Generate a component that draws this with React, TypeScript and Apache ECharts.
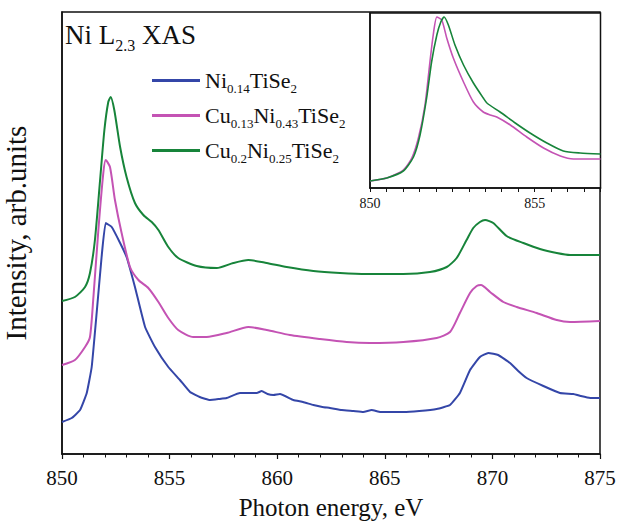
import React, { useEffect, useRef } from "react";
import * as echarts from "echarts";

// Photon energy (eV) and intensity (arb. units) pairs
const seriesNames = ["Ni0.14TiSe2", "Cu0.13Ni0.43TiSe2", "Cu0.2Ni0.25TiSe2"];
const legendRich = [
  "Ni{s|0.14}TiSe{s|2}",
  "Cu{s|0.13}Ni{s|0.43}TiSe{s|2}",
  "Cu{s|0.2}Ni{s|0.25}TiSe{s|2}",
];
const colors = ["#3446a8", "#c453b4", "#17843a"];

const blueMain: [number, number][] = [
  [850.0, 36], [850.45, 40], [850.84, 48], [851.15, 65], [851.38, 91], [851.61, 145],
  [851.84, 201], [852.03, 235], [852.31, 231], [852.7, 215], [853.0, 201], [853.39, 171],
  [853.86, 131], [854.32, 111], [854.94, 91], [855.48, 78], [855.95, 66], [856.4, 61],
  [856.88, 58], [857.3, 59], [857.65, 60], [858.27, 65], [858.7, 65], [859.05, 65],
  [859.28, 67], [859.55, 64], [859.82, 63], [860.13, 64], [860.75, 58], [861.2, 56],
  [861.68, 53], [862.1, 51], [862.45, 50], [863.0, 48], [863.54, 47], [864.0, 46],
  [864.39, 48], [864.8, 46], [865.3, 46], [865.86, 46], [866.6, 47], [867.41, 49],
  [868.03, 53], [868.49, 65], [868.96, 88], [869.42, 101], [869.81, 105], [870.27, 103],
  [870.82, 95], [871.2, 87], [871.59, 80], [872.37, 72], [873.14, 65], [873.76, 64],
  [874.1, 62], [874.54, 60], [875.0, 60],
];

const magentaMain: [number, number][] = [
  [850.0, 93], [850.6, 98], [851.07, 111], [851.3, 121], [851.46, 161], [851.69, 228],
  [851.92, 285], [852.03, 298], [852.23, 291], [852.46, 258], [852.77, 225], [853.16, 191],
  [853.55, 178], [854.01, 170], [854.48, 156], [854.94, 140], [855.4, 128], [856.1, 121],
  [856.72, 121], [857.65, 125], [858.66, 131], [859.51, 128], [860.59, 123], [861.99, 119],
  [863.23, 116], [864.31, 115], [865.86, 116], [867.41, 120], [868.03, 126], [868.49, 145],
  [868.96, 165], [869.27, 172], [869.47, 173], [869.89, 166], [870.51, 156], [871.13, 151],
  [872.06, 145], [872.99, 138], [873.61, 136], [875.0, 137],
];

const greenMain: [number, number][] = [
  [850.0, 157], [850.6, 161], [851.07, 171], [851.3, 185], [851.53, 218], [851.77, 278],
  [851.97, 328], [852.15, 356], [852.26, 361], [852.43, 348], [852.7, 311], [853.0, 281],
  [853.39, 255], [853.78, 243], [854.17, 236], [854.48, 228], [854.94, 211], [855.4, 200],
  [856.26, 192], [857.19, 190], [857.96, 195], [858.66, 198], [859.51, 195], [860.44, 191],
  [861.68, 187], [862.92, 185], [864.16, 184], [865.86, 184], [867.1, 186], [867.88, 191],
  [868.34, 200], [868.8, 218], [869.11, 230], [869.42, 236], [869.66, 238], [870.04, 235],
  [870.66, 222], [871.44, 215], [872.21, 209], [872.99, 205], [873.61, 203], [875.0, 203],
];

const magentaInset: [number, number][] = [
  [850.0, 7], [850.51, 10], [851.01, 18], [851.27, 30], [851.47, 50], [851.67, 83],
  [851.82, 126], [851.92, 153], [852.03, 171], [852.18, 168], [852.33, 150], [852.53, 130],
  [852.84, 106], [853.14, 86], [853.44, 76], [853.65, 73], [853.85, 71], [854.26, 63],
  [854.76, 51], [855.27, 40], [855.78, 32], [856.18, 29], [857.0, 29],
];

const greenInset: [number, number][] = [
  [850.0, 7], [850.51, 10], [851.01, 17], [851.32, 31], [851.52, 53], [851.72, 90],
  [851.87, 126], [852.03, 153], [852.15, 166], [852.25, 171], [852.38, 163], [852.58, 143],
  [852.84, 123], [853.14, 105], [853.44, 90], [853.55, 85], [853.95, 76], [854.41, 65],
  [854.86, 55], [855.37, 45], [855.87, 37], [856.38, 35], [857.0, 34],
];

const mainTicks = { min: 850, max: 875, interval: 5 };
const insetTicks = { min: 850, max: 857, interval: 0.5, labelled: [850, 855] };

const FONT = "Liberation Serif";

export default function App() {
  const ref = useRef<HTMLDivElement>(null);

  useEffect(() => {
    if (!ref.current) return;
    const chart = echarts.init(ref.current, undefined, { renderer: "svg" });
    const richMap: Record<string, string> = {};
    seriesNames.forEach((n, i) => (richMap[n] = legendRich[i]));

    const mainSeries = [blueMain, magentaMain, greenMain].map((d, i) => ({
      name: seriesNames[i],
      type: "line",
      xAxisIndex: 0,
      yAxisIndex: 0,
      data: d,
      symbol: "none",
      smooth: i === 0 ? 0.12 : 0.22,
      lineStyle: { color: colors[i], width: 2 },
      itemStyle: { color: colors[i] },
    }));
    const insetSeries = [
      { d: magentaInset, c: 1 },
      { d: greenInset, c: 2 },
    ].map((s) => ({
      name: seriesNames[s.c],
      type: "line",
      xAxisIndex: 1,
      yAxisIndex: 1,
      data: s.d,
      symbol: "none",
      smooth: 0.22,
      lineStyle: { color: colors[s.c], width: 1.6 },
      itemStyle: { color: colors[s.c] },
    }));

    const option: any = {
      animation: false,
      backgroundColor: "#fff",
      textStyle: { fontFamily: FONT },
      grid: [
        {
          left: 62, top: 12, width: 538, height: 442,
          containLabel: false, outerBoundsMode: "none",
          show: true, borderColor: "#111", borderWidth: 1.5,
          backgroundColor: "transparent",
        },
        {
          left: 370, top: 13, width: 230.5, height: 175,
          containLabel: false, outerBoundsMode: "none",
          show: true, borderColor: "#111", borderWidth: 1.5,
          backgroundColor: "#fff",
        },
      ],
      xAxis: [
        {
          type: "value", gridIndex: 0,
          min: mainTicks.min, max: mainTicks.max, interval: mainTicks.interval,
          name: "Photon energy, eV", nameLocation: "middle", nameGap: 41,
          nameTextStyle: { fontFamily: FONT, fontSize: 25, lineHeight: 25, color: "#111" },
          axisLine: { show: true, lineStyle: { color: "#111", width: 1.5 } },
          axisTick: { show: true, inside: false, length: 5, lineStyle: { color: "#111", width: 1.2 } },
          minorTick: { show: true, splitNumber: 5, length: 3.5, lineStyle: { color: "#111", width: 1 } },
          axisLabel: { fontFamily: FONT, fontSize: 21, color: "#111", margin: 13 },
          splitLine: { show: false },
        },
        {
          type: "value", gridIndex: 1,
          min: insetTicks.min, max: insetTicks.max, interval: insetTicks.interval,
          axisLine: { show: true, lineStyle: { color: "#111", width: 1.5 } },
          axisTick: { show: true, inside: false, length: 4, lineStyle: { color: "#111", width: 1 } },
          axisLabel: {
            fontFamily: FONT, fontSize: 14, color: "#111", margin: 8,
            formatter: (v: number) => (insetTicks.labelled.includes(v) ? String(v) : ""),
          },
          splitLine: { show: false },
        },
      ],
      yAxis: [
        {
          type: "value", gridIndex: 0, min: 4, max: 446,
          name: "Intensity, arb.units", nameLocation: "middle", nameGap: 32,
          nameTextStyle: { fontFamily: FONT, fontSize: 29, color: "#111" },
          axisLine: { show: true, lineStyle: { color: "#111", width: 1.5 } },
          axisTick: { show: false },
          axisLabel: { show: false },
          splitLine: { show: false },
        },
        {
          type: "value", gridIndex: 1, min: 0, max: 175,
          axisLine: { show: true, lineStyle: { color: "#111", width: 1.5 } },
          axisTick: { show: false },
          axisLabel: { show: false },
          splitLine: { show: false },
        },
      ],
      legend: {
        data: seriesNames,
        orient: "vertical",
        left: 152,
        top: 66,
        padding: 0,
        itemGap: 6,
        itemWidth: 48,
        itemHeight: 3,
        icon: "rect",
        selectedMode: false,
        formatter: (name: string) => richMap[name],
        textStyle: {
          fontFamily: FONT, fontSize: 22, color: "#111", lineHeight: 24,
          rich: {
            s: { fontFamily: FONT, fontSize: 13, color: "#111", lineHeight: 4, padding: [16, 0, 0, 0] },
          },
        },
      },
      graphic: [
        {
          type: "text",
          left: 65,
          top: 17,
          style: {
            text: "Ni L{s|2.3} XAS",
            fontFamily: FONT,
            fontSize: 27,
            lineHeight: 30,
            fill: "#111",
            rich: {
              s: { fontFamily: FONT, fontSize: 16, fill: "#111", lineHeight: 4, padding: [20, 0, 0, 0] },
            },
          },
        },
      ],
      series: [...mainSeries, ...insetSeries],
    };
    chart.setOption(option);
    return () => chart.dispose();
  }, []);

  return (
    <div
      ref={ref}
      style={{ position: "fixed", left: 0, top: 0, width: 617, height: 523 }}
    />
  );
}
